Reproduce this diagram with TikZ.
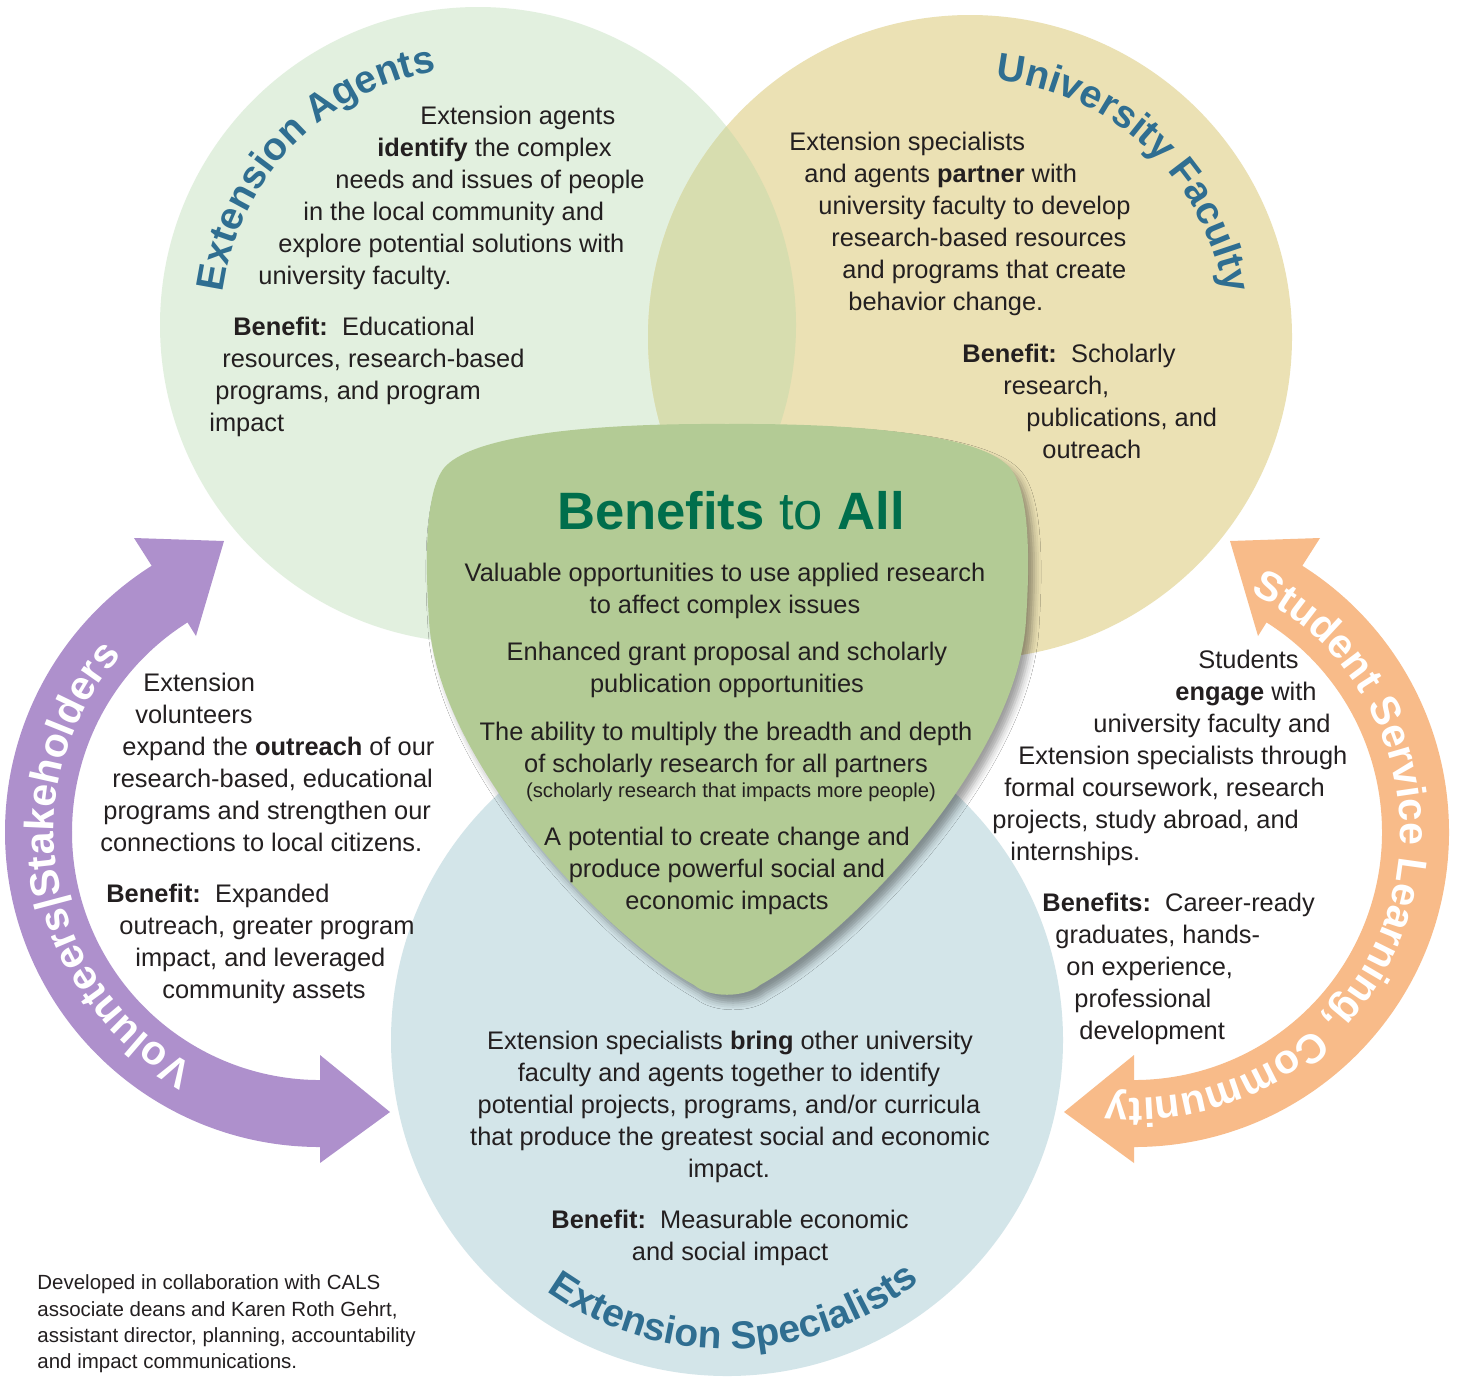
\documentclass[tikz,border=0pt]{standalone}
\usepackage{fontspec}
\setmainfont{Liberation Sans}
\usetikzlibrary{decorations.text,shadows.blur}

\definecolor{agentsfill}{RGB}{226,240,223}
\definecolor{facultyfill}{RGB}{235,225,180}
\definecolor{overlapfill}{RGB}{215,221,175}
\definecolor{specfill}{RGB}{211,229,233}
\definecolor{shieldfill}{RGB}{179,203,149}
\definecolor{titlegreen}{RGB}{0,110,76}
\definecolor{headblue}{RGB}{47,110,145}
\definecolor{volpurple}{RGB}{174,144,204}
\definecolor{stuorange}{RGB}{248,187,137}
\definecolor{ink}{RGB}{35,31,32}

\newcommand{\bodyf}{\fontsize{12.7}{16}\selectfont}
\newcommand{\smallf}{\fontsize{10.1}{13}\selectfont}
\newcommand{\notef}{\fontsize{10.25}{13}\selectfont}
\newcommand{\headf}{\fontsize{19.5}{24}\selectfont\bfseries}
\newcommand{\arrowf}{\fontsize{20.5}{24}\selectfont\bfseries}
\newcommand{\titlef}{\fontsize{26.3}{30}\selectfont}

\begin{document}
\begin{tikzpicture}[x=0.5pt, y=-0.5pt,
  ln/.style={anchor=base west, inner sep=0pt, text=ink, font=\bodyf},
  cln/.style={ln, anchor=base}]
\useasboundingbox (0,0) rectangle (1459,1382);
\fill[white] (0,0) rectangle (1459,1382);

% the three circles
\fill[agentsfill] (478,325) circle[radius=318];
\fill[facultyfill] (970,337) circle[radius=322];
\begin{scope}
\clip (478,325) circle[radius=318];
\fill[overlapfill] (970,337) circle[radius=322];
\end{scope}
\fill[specfill] (727,1040) circle[radius=336];

% side arrows
\fill[volpurple] (390,1112) -- (320,1163) -- (320,1147) arc[start angle=90, end angle=237.7, radius=315]
  -- (134,538) -- (224,541) -- (196,636) -- (187.5,622.4) arc[start angle=237.7, end angle=90, radius=248]
  -- (320,1055) -- cycle;
\fill[stuorange] (1064,1112) -- (1134,1163) -- (1134,1147) arc[start angle=90, end angle=-57.7, radius=315]
  -- (1320,538) -- (1230,541) -- (1258,636) -- (1266.5,622.4) arc[start angle=-57.7, end angle=90, radius=248]
  -- (1134,1055) -- cycle;

% shield in the middle
\fill[shieldfill, blur shadow={shadow xshift=3pt, shadow yshift=-4pt, shadow blur radius=3.5pt, shadow opacity=38}]
  (727,424) .. controls (880,423) and (985,438) .. (1010,468)
  .. controls (1030,492) and (1030,560) .. (1026,620)
  .. controls (1018,760) and (850,935) .. (760,985)
  .. controls (745,998) and (709,998) .. (694,985)
  .. controls (604,935) and (437,760) .. (429,620)
  .. controls (425,560) and (425,492) .. (444,468)
  .. controls (469,438) and (574,423) .. (727,424) -- cycle;

% Extension Agents
\node[ln] (ag1) at (420,124) {Extension agents};
\node[ln] (ag2) at (377,156) {\textbf{identify} the complex};
\node[ln] (ag3) at (335,188) {needs and issues of people};
\node[ln] (ag4) at (303,220) {in the local community and};
\node[ln] (ag5) at (278,252) {explore potential solutions with};
\node[ln] (ag6) at (258,284) {university faculty.};
\node[ln] (ag7) at (233,335) {\textbf{Benefit:}\ \ Educational};
\node[ln] (ag8) at (222,367) {resources, research-based};
\node[ln] (ag9) at (215,399) {programs, and program};
\node[ln] (ag10) at (209,431) {impact};

% University Faculty
\node[ln] (fa1) at (789,150) {Extension specialists};
\node[ln] (fa2) at (804,182) {and agents \textbf{partner} with};
\node[ln] (fa3) at (818,214) {university faculty to develop};
\node[ln] (fa4) at (831,246) {research-based resources};
\node[ln] (fa5) at (842,278) {and programs that create};
\node[ln] (fa6) at (848,310) {behavior change.};
\node[ln] (fa7) at (962,362) {\textbf{Benefit:}\ \ Scholarly};
\node[ln] (fa8) at (1003,394) {research,};
\node[ln] (fa9) at (1026,426) {publications, and};
\node[ln] (fa10) at (1042,458) {outreach};

% Benefits to All
\node[cln, font=\titlef, text=titlegreen] (title) at (731,529) {\textbf{Benefits} to \textbf{All}};
\node[cln] (al1) at (725,581) {Valuable opportunities to use applied research};
\node[cln] (al2) at (725,613) {to affect complex issues};
\node[cln] (al3) at (727,660) {Enhanced grant proposal and scholarly};
\node[cln] (al4) at (727,692) {publication opportunities};
\node[cln] (al5) at (726,740) {The ability to multiply the breadth and depth};
\node[cln] (al6) at (726,772) {of scholarly research for all partners};
\node[cln, font=\smallf] (al7) at (731,797) {(scholarly research that impacts more people)};
\node[cln] (al8) at (727,845) {A potential to create change and};
\node[cln] (al9) at (727,877) {produce powerful social and};
\node[cln] (al10) at (727,909) {economic impacts};

% Volunteers
\node[ln] (vo1) at (143,691) {Extension};
\node[ln] (vo2) at (135,723) {volunteers};
\node[ln] (vo3) at (122,755) {expand the \textbf{outreach} of our};
\node[ln] (vo4) at (112,787) {research-based, educational};
\node[ln] (vo5) at (103,819) {programs and strengthen our};
\node[ln] (vo6) at (100,851) {connections to local citizens.};
\node[ln] (vo7) at (106,902) {\textbf{Benefit:}\ \ Expanded};
\node[ln] (vo8) at (119,934) {outreach, greater program};
\node[ln] (vo9) at (135,966) {impact, and leveraged};
\node[ln] (vo10) at (162,998) {community assets};

% Students
\node[ln] (st1) at (1198,668) {Students};
\node[ln] (st2) at (1175,700) {\textbf{engage} with};
\node[ln] (st3) at (1093,732) {university faculty and};
\node[ln] (st4) at (1018,764) {Extension specialists through};
\node[ln] (st5) at (1004,796) {formal coursework, research};
\node[ln] (st6) at (992,828) {projects, study abroad, and};
\node[ln] (st7) at (1010,860) {internships.};
\node[ln] (st8) at (1042,911) {\textbf{Benefits:}\ \ Career-ready};
\node[ln] (st9) at (1055,943) {graduates, hands-};
\node[ln] (st10) at (1066,975) {on experience,};
\node[ln] (st11) at (1074,1007) {professional};
\node[ln] (st12) at (1079,1039) {development};

% Extension Specialists
\node[cln] (sp1) at (730,1049) {Extension specialists \textbf{bring} other university};
\node[cln] (sp2) at (729,1081) {faculty and agents together to identify};
\node[cln] (sp3) at (729,1113) {potential projects, programs, and/or curricula};
\node[cln] (sp4) at (730,1145) {that produce the greatest social and economic};
\node[cln] (sp5) at (729,1177) {impact.};
\node[cln] (sp6) at (730,1228) {\textbf{Benefit:}\ \ Measurable economic};
\node[cln] (sp7) at (730,1260) {and social impact};

% credits
\node[ln, font=\notef] (note1) at (37,1289) {Developed in collaboration with CALS};
\node[ln, font=\notef] (note2) at (37,1316) {associate deans and Karen Roth Gehrt,};
\node[ln, font=\notef] (note3) at (37,1342) {assistant director, planning, accountability};
\node[ln, font=\notef] (note4) at (37,1368) {and impact communications.};

% curved headings
\path[decorate, decoration={text along path, text align=center, text color=headblue,
  text={|\headf|Extension Agents}}] (478,325) ++(164:257) arc[start angle=164, end angle=284, radius=257];
\path[decorate, decoration={text along path, text align=center, text color=headblue,
  text={|\headf|University Faculty}}] (970,337) ++(-107:258) arc[start angle=-107, end angle=13, radius=258];
\path[decorate, decoration={text along path, text align=center, text color=headblue,
  text={|\headf|Extension Specialists}}] (727,1040) ++(158.5:309) arc[start angle=158.5, end angle=18.5, radius=309];
\path[decorate, decoration={text along path, text align=center, text color=white,
  text={|\arrowf|Volunteers{\textbar}Stakeholders}}] (320,832) ++(90:266) arc[start angle=90, end angle=250, radius=266];
\path[decorate, decoration={text along path, text align=center, text color=white,
  text={|\arrowf|Student Service Learning, Community}}] (1134,832) ++(-69:266) arc[start angle=-69, end angle=101, radius=266];
\end{tikzpicture}
\end{document}
